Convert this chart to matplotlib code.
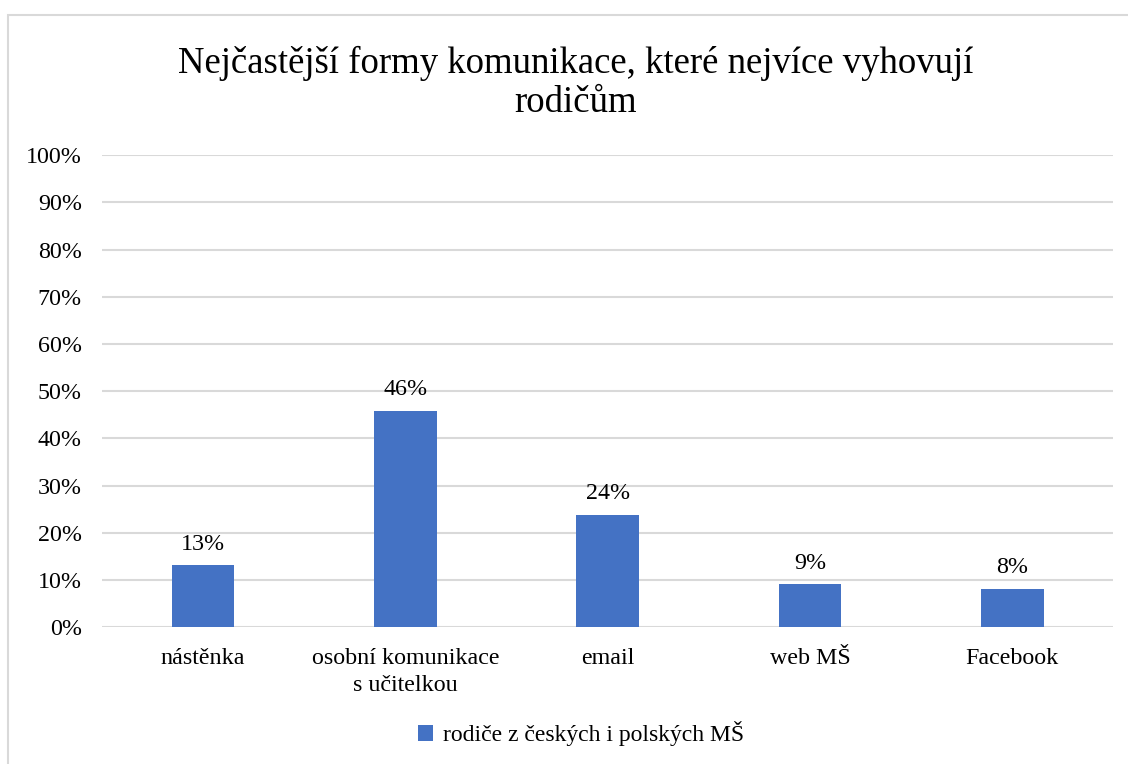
import matplotlib.pyplot as plt
import numpy as np
from matplotlib.patches import Rectangle
from matplotlib.ticker import PercentFormatter

plt.rcParams["font.family"] = ["Liberation Serif", "DejaVu Serif"]

categories = ["nástěnka", "osobní komunikace\ns učitelkou", "email", "web MŠ", "Facebook"]
values = [13.2, 45.9, 23.8, 9.1, 8.2]
labels = ["13%", "46%", "24%", "9%", "8%"]
series_name = "rodiče z českých i polských MŠ"
title = "Nejčastější formy komunikace, které nejvíce vyhovují\nrodičům"

fig = plt.figure(figsize=(11.28, 7.64), dpi=100)
ax = fig.add_axes([0.0904, 0.179, 0.8966, 0.618])

# chart border
fig.patches.append(Rectangle((8 / 1128, -0.01), 1.2, 1 - 15 / 764 + 0.01,
                             transform=fig.transFigure, fill=False,
                             edgecolor="#D9D9D9", linewidth=1.5))

x = np.arange(len(categories))
bars = ax.bar(x, values, width=0.31, color="#4472C4", label=series_name, zorder=3)
for xi, v, lab in zip(x, values, labels):
    ax.text(xi, v + 2.2, lab, ha="center", va="bottom", fontsize=17.3)

ax.set_xlim(-0.5, 4.5)
ax.set_ylim(0, 100)
ax.set_yticks(np.arange(0, 101, 10))
ax.yaxis.set_major_formatter(PercentFormatter(decimals=0))
ax.set_xticks(x)
ax.set_xticklabels(categories, fontsize=17.3, linespacing=1.35)
ax.tick_params(axis="y", labelsize=17.3, length=0, pad=14.5)
ax.tick_params(axis="x", length=0, pad=15)
ax.grid(axis="y", color="#D9D9D9", linewidth=1.5, zorder=0)
for s in ax.spines.values():
    s.set_visible(False)

fig.text(0.51, 0.94, title, ha="center", va="top", fontsize=26.5, linespacing=1.18)

fig.legend(loc="center", bbox_to_anchor=(0.515, 0.04), frameon=False, fontsize=17,
           handlelength=0.65, handleheight=0.65, handletextpad=0.4)

fig.savefig("out.png", dpi=100)
